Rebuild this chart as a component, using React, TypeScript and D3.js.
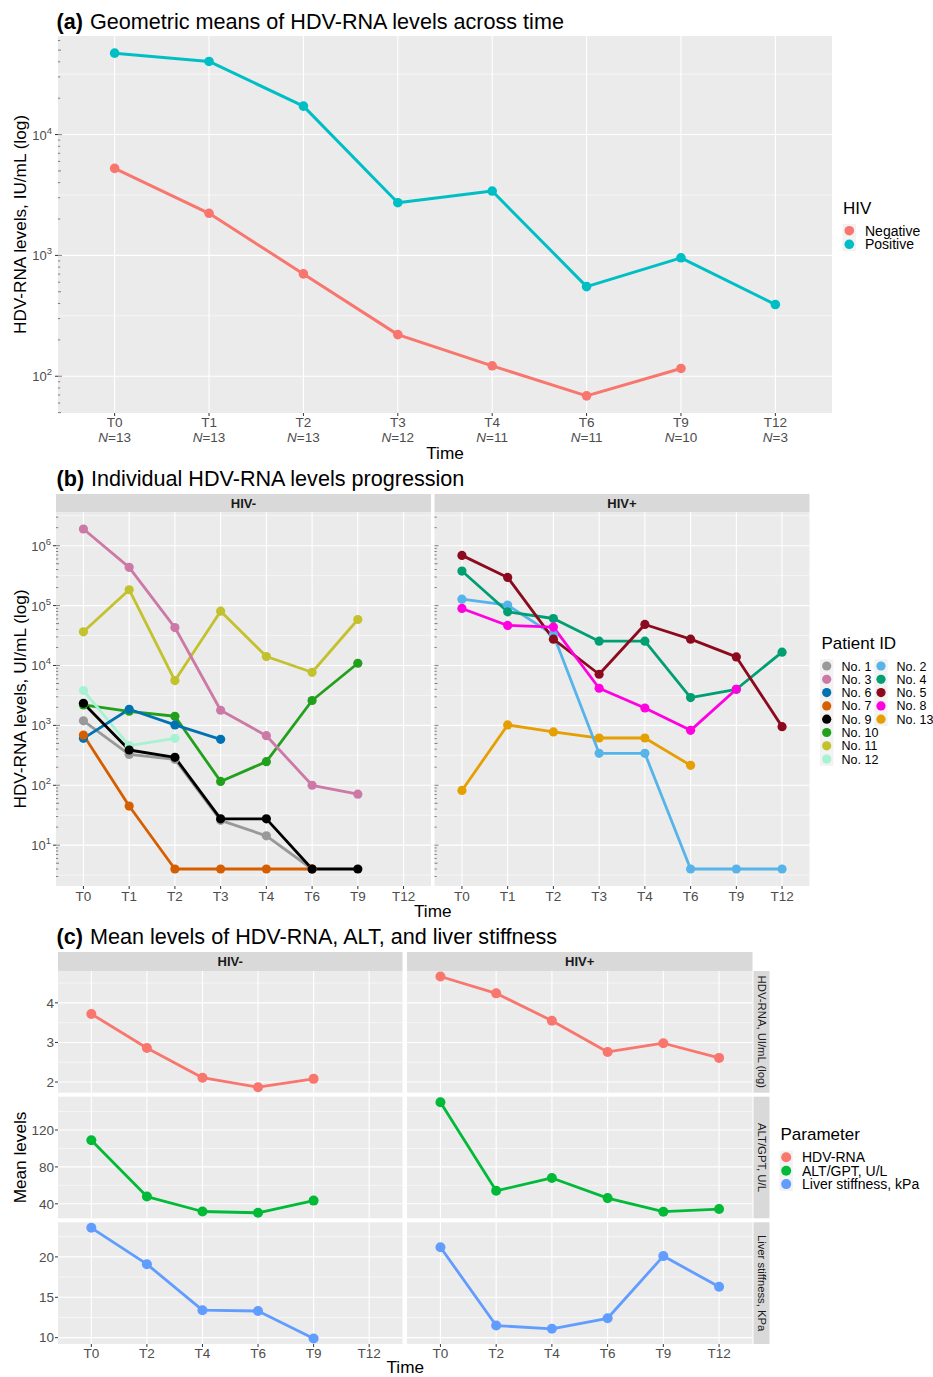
import React from "react";
import * as d3 from "d3";

const FONT = "'Liberation Sans', Arial, Helvetica, sans-serif";
const PANEL_BG = "#EBEBEB";
const STRIP_BG = "#D9D9D9";
const KEY_BG = "#F2F2F2";
const AXIS_TEXT = "#4D4D4D";
const TICK_COLOR = "#333333";

// ---------------- (a) geometric means ----------------
const timesA = ["T0", "T1", "T2", "T3", "T4", "T6", "T9", "T12"];
const sampleSizes = ["13", "13", "13", "12", "11", "11", "10", "3"];
const hivLevels = ["Negative", "Positive"];
const hivColors = ["#F8766D", "#00BFC4"];
const geoMeanNegative: (number | null)[] = [5250, 2230, 703, 221, 122, 68.8, 116, null];
const geoMeanPositive: (number | null)[] = [47200, 40300, 17200, 2730, 3410, 552, 955, 392];

// ---------------- (b) individual patients ----------------
const facetsB = ["HIV-", "HIV+"];
const patientIds = ["No. 1", "No. 2", "No. 3", "No. 4", "No. 5", "No. 6", "No. 7", "No. 8", "No. 9", "No. 10", "No. 11", "No. 12", "No. 13"];
const patientGroups = ["HIV-", "HIV+", "HIV-", "HIV+", "HIV+", "HIV-", "HIV-", "HIV+", "HIV-", "HIV-", "HIV-", "HIV-", "HIV+"];
const patientColors = ["#999999", "#56B4E9", "#CC79A7", "#009E73", "#8B0A1E", "#0072B2", "#D55E00", "#FF00E0", "#000000", "#22A01C", "#C3C12D", "#A5F3D3", "#E69F00"];
const no1: (number | null)[] = [1190, 328, 271, 26, 14.3, 4, null, null];
const no2: (number | null)[] = [128000, 102000, 32500, 341, 341, 4, 4, 4];
const no3: (number | null)[] = [1900000, 435000, 43000, 1790, 673, 100, 71, null];
const no4: (number | null)[] = [377000, 78700, 60900, 25500, 25500, 2910, 4010, 16700];
const no5: (number | null)[] = [689000, 295000, 27500, 7140, 48400, 27500, 13900, 953];
const no6: (number | null)[] = [608, 1860, 1017, 585, null, null, null, null];
const no7: (number | null)[] = [690, 45, 4, 4, 4, 4, null, null];
const no8: (number | null)[] = [89600, 46600, 43700, 4170, 1950, 826, 4010, null];
const no9: (number | null)[] = [2340, 388, 293, 27.5, 27.5, 4, 4, null];
const no10: (number | null)[] = [2190, 1720, 1420, 116, 248, 2600, 10900, null];
const no11: (number | null)[] = [36500, 184000, 5600, 80700, 14100, 7700, 58600, null];
const no12: (number | null)[] = [3810, 458, 608, null, null, null, null, null];
const no13: (number | null)[] = [82, 1017, 776, 615, 615, 215, null, null];
const patientSeries = [no1, no2, no3, no4, no5, no6, no7, no8, no9, no10, no11, no12, no13];
const legendColumnB1 = ["No. 1", "No. 3", "No. 6", "No. 7", "No. 9", "No. 10", "No. 11", "No. 12"];
const legendColumnB2 = ["No. 2", "No. 4", "No. 5", "No. 8", "No. 13"];

// ---------------- (c) mean levels ----------------
const timesC = ["T0", "T2", "T4", "T6", "T9", "T12"];
const facetsC = ["HIV-", "HIV+"];
const parameterLabels = ["HDV-RNA", "ALT/GPT, U/L", "Liver stiffness, kPa"];
const parameterStrips = ["HDV-RNA, UI/mL (log)", "ALT/GPT, U/L", "Liver stiffness, KPa"];
const parameterColors = ["#F8766D", "#00BA38", "#619CFF"];
const hdvMeanNeg: (number | null)[] = [3.72, 2.86, 2.11, 1.87, 2.08, null];
const hdvMeanPos: (number | null)[] = [4.665, 4.24, 3.55, 2.76, 2.98, 2.61];
const altMeanNeg: (number | null)[] = [108.9, 47.9, 31.7, 30.3, 43.5, null];
const altMeanPos: (number | null)[] = [150.1, 54.1, 68.0, 46.2, 31.5, 34.3];
const lsmMeanNeg: (number | null)[] = [23.6, 19.1, 13.4, 13.3, 9.9, null];
const lsmMeanPos: (number | null)[] = [21.2, 11.5, 11.1, 12.4, 20.1, 16.3];
const yTicksC = [[2, 3, 4], [40, 80, 120], [10, 15, 20]];
const yMinorC = [[2.5, 3.5, 4.5], [60, 100, 140], [12.5, 17.5, 22.5]];

// ---------------- helpers ----------------
function expandLog(vals: number[]): [number, number] {
  const lo = Math.log10(d3.min(vals)!);
  const hi = Math.log10(d3.max(vals)!);
  const d = (hi - lo) * 0.05;
  return [Math.pow(10, lo - d), Math.pow(10, hi + d)];
}
function expandLin(vals: number[]): [number, number] {
  const lo = d3.min(vals)!;
  const hi = d3.max(vals)!;
  const d = (hi - lo) * 0.05;
  return [lo - d, hi + d];
}
const clean = (a: (number | null)[]) => a.filter((v) => v != null) as number[];

type Box = { x0: number; x1: number; y0: number; y1: number };

function PanelBg({ box, xs, yMajor, yMinor }: { box: Box; xs: number[]; yMajor: number[]; yMinor: number[]; k: string }) {
  return (
    <g>
      <rect x={box.x0} y={box.y0} width={box.x1 - box.x0} height={box.y1 - box.y0} fill={PANEL_BG} />
      {yMinor.filter((y) => y > box.y0 && y < box.y1).map((y, i) => (
        <line key={"mn" + i} x1={box.x0} x2={box.x1} y1={y} y2={y} stroke="#FFFFFF" strokeWidth={0.55} />
      ))}
      {yMajor.filter((y) => y > box.y0 && y < box.y1).map((y, i) => (
        <line key={"mj" + i} x1={box.x0} x2={box.x1} y1={y} y2={y} stroke="#FFFFFF" strokeWidth={1.1} />
      ))}
      {xs.map((x, i) => (
        <line key={"vx" + i} x1={x} x2={x} y1={box.y0} y2={box.y1} stroke="#FFFFFF" strokeWidth={1.1} />
      ))}
    </g>
  );
}

function LogTicks({ box, y, k }: { box: Box; y: d3.ScaleLogarithmic<number, number>; k: string }) {
  const [lo, hi] = y.domain();
  const out: JSX.Element[] = [];
  for (let e = Math.floor(Math.log10(lo)); e <= Math.ceil(Math.log10(hi)); e++) {
    for (let m = 1; m <= 9; m++) {
      const v = m * Math.pow(10, e);
      if (v < lo || v > hi) continue;
      const len = m === 1 ? 4 : m === 5 ? 3 : 2.2;
      const yy = y(v);
      out.push(<line key={k + e + "_" + m} x1={box.x0} x2={box.x0 + len} y1={yy} y2={yy} stroke="#333" strokeWidth={0.6} />);
    }
  }
  return <g>{out}</g>;
}

function PowLabel({ x, y, exp }: { x: number; y: number; exp: number }) {
  return (
    <text x={x} y={y + 5} textAnchor="end" fontSize={13} fill={AXIS_TEXT} fontFamily={FONT}>
      10<tspan dy={-6} fontSize={9.5}>{exp}</tspan>
    </text>
  );
}

function Title({ x, y, tag, text }: { x: number; y: number; tag: string; text: string }) {
  return (
    <text x={x} y={y} fontSize={21.6} fontFamily={FONT} fill="#000">
      <tspan fontWeight="bold">{tag}</tspan>
      <tspan dx={7}>{text}</tspan>
    </text>
  );
}

export default function App() {
  const W = 933, H = 1377;

  // ---------- (a) ----------
  const boxA: Box = { x0: 58, x1: 832, y0: 36, y1: 413 };
  const xA = d3.scalePoint<string>().domain(timesA).range([boxA.x0, boxA.x1]).padding(0.6);
  const yA = d3.scaleLog().domain(expandLog([...clean(geoMeanNegative), ...clean(geoMeanPositive)])).range([boxA.y1, boxA.y0]);
  const aMajor = [100, 1000, 10000];
  const aMinor = [Math.pow(10, 2.5), Math.pow(10, 3.5), Math.pow(10, 4.5)];
  const seriesA = [geoMeanNegative, geoMeanPositive];
  const lineA = d3
    .line<[string, number | null]>()
    .defined((d) => d[1] != null)
    .x((d) => xA(d[0])!)
    .y((d) => yA(d[1] as number));

  // ---------- (b) ----------
  const boxesB: Box[] = [
    { x0: 56, x1: 431, y0: 512, y1: 886 },
    { x0: 434.5, x1: 809.5, y0: 512, y1: 886 },
  ];
  const stripYB = [494, 512];
  const allB = patientSeries.flatMap((s) => clean(s));
  const yB = d3.scaleLog().domain(expandLog(allB)).range([boxesB[0].y1, boxesB[0].y0]);
  const xBs = boxesB.map((b) => d3.scalePoint<string>().domain(timesA).range([b.x0, b.x1]).padding(0.6));
  const bMajor = [1, 2, 3, 4, 5, 6].map((e) => Math.pow(10, e));
  const bMinor = [0.5, 1.5, 2.5, 3.5, 4.5, 5.5, 6.5].map((e) => Math.pow(10, e));
  const drawOrder = d3.range(patientIds.length).sort((a, b) => d3.ascending(patientIds[a], patientIds[b]));

  // ---------- (c) ----------
  const colsC = [
    { x0: 58, x1: 402.5 },
    { x0: 407, x1: 752.5 },
  ];
  const rowsC = [
    { y0: 971, y1: 1092.7 },
    { y0: 1096.7, y1: 1218.3 },
    { y0: 1222.3, y1: 1344 },
  ];
  const stripYC = [952, 971];
  const seriesC = [
    [hdvMeanNeg, hdvMeanPos],
    [altMeanNeg, altMeanPos],
    [lsmMeanNeg, lsmMeanPos],
  ];
  const xCs = colsC.map((c) => d3.scalePoint<string>().domain(timesC).range([c.x0, c.x1]).padding(0.6));
  const yCs = rowsC.map((r, i) =>
    d3.scaleLinear().domain(expandLin([...clean(seriesC[i][0]), ...clean(seriesC[i][1])])).range([r.y1, r.y0])
  );

  const els: JSX.Element[] = [];

  // ===== Panel (a) =====
  els.push(<Title key="ta" x={56.5} y={28.5} tag="(a)" text="Geometric means of HDV-RNA levels across time" />);
  els.push(
    <PanelBg key="pa" k="pa" box={boxA} xs={timesA.map((t) => xA(t)!)} yMajor={aMajor.map((v) => yA(v))} yMinor={aMinor.map((v) => yA(v))} />
  );
  seriesA.forEach((s, si) => {
    els.push(
      <path key={"la" + si} d={lineA(timesA.map((t, i) => [t, s[i]]) as [string, number | null][]) || ""} fill="none" stroke={hivColors[si]} strokeWidth={3} strokeLinejoin="round" />
    );
  });
  seriesA.forEach((s, si) => {
    timesA.forEach((t, i) => {
      if (s[i] == null) return;
      els.push(<circle key={"pa" + si + "_" + i} cx={xA(t)} cy={yA(s[i] as number)} r={4.8} fill={hivColors[si]} />);
    });
  });
  els.push(<LogTicks key="lta" k="lta" box={boxA} y={yA} />);
  aMajor.forEach((v, i) => {
    const yy = yA(v);
    els.push(<line key={"ata" + i} x1={boxA.x0 - 3} x2={boxA.x0} y1={yy} y2={yy} stroke={TICK_COLOR} strokeWidth={1} />);
    els.push(<PowLabel key={"apl" + i} x={52} y={yy} exp={Math.round(Math.log10(v))} />);
  });
  timesA.forEach((t, i) => {
    const xx = xA(t)!;
    els.push(<line key={"axt" + i} x1={xx} x2={xx} y1={boxA.y1} y2={boxA.y1 + 3} stroke={TICK_COLOR} strokeWidth={1} />);
    els.push(
      <text key={"axl" + i} x={xx} y={427} textAnchor="middle" fontSize={13.5} fill={AXIS_TEXT} fontFamily={FONT}>
        {t}
      </text>
    );
    els.push(
      <text key={"axn" + i} x={xx} y={442} textAnchor="middle" fontSize={13.5} fill={AXIS_TEXT} fontFamily={FONT}>
        <tspan fontStyle="italic">N</tspan>={sampleSizes[i]}
      </text>
    );
  });
  els.push(
    <text key="axta" x={(boxA.x0 + boxA.x1) / 2} y={459} textAnchor="middle" fontSize={17.2} fontFamily={FONT}>
      Time
    </text>
  );
  els.push(
    <text key="ayta" transform={`translate(26,${(boxA.y0 + boxA.y1) / 2}) rotate(-90)`} textAnchor="middle" fontSize={17.2} fontFamily={FONT}>
      HDV-RNA levels, IU/mL (log)
    </text>
  );
  // legend a
  els.push(
    <text key="lga" x={843} y={213.5} fontSize={17} fontFamily={FONT}>
      HIV
    </text>
  );
  hivLevels.forEach((lv, i) => {
    const cy = 230.7 + i * 13.6;
    els.push(<rect key={"lgak" + i} x={842.5} y={cy - 6.8} width={13.6} height={13.6} fill={KEY_BG} />);
    els.push(<circle key={"lgac" + i} cx={849.3} cy={cy} r={4.8} fill={hivColors[i]} />);
    els.push(
      <text key={"lgat" + i} x={865} y={cy + 5} fontSize={14} fontFamily={FONT}>
        {lv}
      </text>
    );
  });

  // ===== Panel (b) =====
  els.push(<Title key="tb" x={56.5} y={486} tag="(b)" text="Individual HDV-RNA levels progression" />);
  boxesB.forEach((b, fi) => {
    const xs = xBs[fi];
    els.push(
      <rect key={"sb" + fi} x={b.x0} y={stripYB[0]} width={b.x1 - b.x0} height={stripYB[1] - stripYB[0]} fill={STRIP_BG} />
    );
    els.push(
      <text key={"sbt" + fi} x={(b.x0 + b.x1) / 2} y={(stripYB[0] + stripYB[1]) / 2 + 4.6} textAnchor="middle" fontSize={13} fontWeight="bold" fill="#1A1A1A" fontFamily={FONT}>
        {facetsB[fi]}
      </text>
    );
    els.push(
      <PanelBg key={"pb" + fi} k={"pb" + fi} box={b} xs={timesA.map((t) => xs(t)!)} yMajor={bMajor.map((v) => yB(v))} yMinor={bMinor.map((v) => yB(v))} />
    );
  });
  const linesB: JSX.Element[] = [];
  const pointsB: JSX.Element[] = [];
  drawOrder.forEach((pi) => {
    const fi = facetsB.indexOf(patientGroups[pi]);
    const xs = xBs[fi];
    const s = patientSeries[pi];
    const ln = d3
      .line<[string, number | null]>()
      .defined((d) => d[1] != null)
      .x((d) => xs(d[0])!)
      .y((d) => yB(d[1] as number));
    linesB.push(
      <path key={"lb" + pi} d={ln(timesA.map((t, i) => [t, s[i]]) as [string, number | null][]) || ""} fill="none" stroke={patientColors[pi]} strokeWidth={2.8} strokeLinejoin="round" />
    );
    timesA.forEach((t, i) => {
      if (s[i] == null) return;
      pointsB.push(<circle key={"pb" + pi + "_" + i} cx={xs(t)} cy={yB(s[i] as number)} r={4.6} fill={patientColors[pi]} />);
    });
  });
  els.push(<g key="linesB">{linesB}</g>);
  els.push(<g key="pointsB">{pointsB}</g>);
  boxesB.forEach((b, fi) => {
    els.push(<LogTicks key={"ltb" + fi} k={"ltb" + fi} box={b} y={yB} />);
    timesA.forEach((t, i) => {
      const xx = xBs[fi](t)!;
      els.push(<line key={"bxt" + fi + i} x1={xx} x2={xx} y1={b.y1} y2={b.y1 + 3} stroke={TICK_COLOR} strokeWidth={1} />);
      els.push(
        <text key={"bxl" + fi + i} x={xx} y={900.5} textAnchor="middle" fontSize={13.5} fill={AXIS_TEXT} fontFamily={FONT}>
          {t}
        </text>
      );
    });
  });
  bMajor.forEach((v, i) => {
    const yy = yB(v);
    els.push(<line key={"bta" + i} x1={boxesB[0].x0 - 3} x2={boxesB[0].x0} y1={yy} y2={yy} stroke={TICK_COLOR} strokeWidth={1} />);
    els.push(<PowLabel key={"bpl" + i} x={51} y={yy} exp={Math.round(Math.log10(v))} />);
  });
  els.push(
    <text key="bxta" x={(boxesB[0].x0 + boxesB[1].x1) / 2} y={917} textAnchor="middle" fontSize={17.2} fontFamily={FONT}>
      Time
    </text>
  );
  els.push(
    <text key="byta" transform={`translate(26,${(boxesB[0].y0 + boxesB[0].y1) / 2}) rotate(-90)`} textAnchor="middle" fontSize={17.2} fontFamily={FONT}>
      HDV-RNA levels, UI/mL (log)
    </text>
  );
  // legend b
  els.push(
    <text key="lgb" x={821.5} y={648.5} fontSize={17} fontFamily={FONT}>
      Patient ID
    </text>
  );
  [legendColumnB1, legendColumnB2].forEach((col, ci) => {
    const kx = ci === 0 ? 826.7 : 881;
    const tx = ci === 0 ? 841.5 : 896.5;
    col.forEach((id, ri) => {
      const cy = 666 + ri * 13.3;
      const pi = patientIds.indexOf(id);
      els.push(<rect key={"lgbk" + ci + ri} x={kx - 6.7} y={cy - 6.65} width={13.4} height={13.3} fill={KEY_BG} />);
      els.push(<circle key={"lgbc" + ci + ri} cx={kx} cy={cy} r={4.6} fill={patientColors[pi]} />);
      els.push(
        <text key={"lgbt" + ci + ri} x={tx} y={cy + 4.5} fontSize={12.5} fontFamily={FONT}>
          {id}
        </text>
      );
    });
  });

  // ===== Panel (c) =====
  els.push(<Title key="tc" x={56.5} y={944} tag="(c)" text="Mean levels of HDV-RNA, ALT, and liver stiffness" />);
  colsC.forEach((c, ci) => {
    els.push(<rect key={"sc" + ci} x={c.x0} y={stripYC[0]} width={c.x1 - c.x0} height={stripYC[1] - stripYC[0]} fill={STRIP_BG} />);
    els.push(
      <text key={"sct" + ci} x={(c.x0 + c.x1) / 2} y={(stripYC[0] + stripYC[1]) / 2 + 4.6} textAnchor="middle" fontSize={13} fontWeight="bold" fill="#1A1A1A" fontFamily={FONT}>
        {facetsC[ci]}
      </text>
    );
  });
  rowsC.forEach((r, ri) => {
    const y = yCs[ri];
    els.push(<rect key={"rsc" + ri} x={753.5} y={r.y0} width={16} height={r.y1 - r.y0} fill={STRIP_BG} />);
    els.push(
      <text key={"rsct" + ri} transform={`translate(761.5,${(r.y0 + r.y1) / 2}) rotate(90)`} y={4} textAnchor="middle" fontSize={11.3} fill="#1A1A1A" fontFamily={FONT}>
        {parameterStrips[ri]}
      </text>
    );
    colsC.forEach((c, ci) => {
      const box: Box = { x0: c.x0, x1: c.x1, y0: r.y0, y1: r.y1 };
      els.push(
        <PanelBg key={"pc" + ri + ci} k={"pc" + ri + ci} box={box} xs={timesC.map((t) => xCs[ci](t)!)} yMajor={yTicksC[ri].map((v) => y(v))} yMinor={yMinorC[ri].map((v) => y(v))} />
      );
    });
    colsC.forEach((c, ci) => {
      const s = seriesC[ri][ci];
      const xs = xCs[ci];
      const ln = d3
        .line<[string, number | null]>()
        .defined((d) => d[1] != null)
        .x((d) => xs(d[0])!)
        .y((d) => y(d[1] as number));
      els.push(
        <path key={"lc" + ri + ci} d={ln(timesC.map((t, i) => [t, s[i]]) as [string, number | null][]) || ""} fill="none" stroke={parameterColors[ri]} strokeWidth={2.8} strokeLinejoin="round" />
      );
      timesC.forEach((t, i) => {
        if (s[i] == null) return;
        els.push(<circle key={"pcc" + ri + ci + i} cx={xs(t)} cy={y(s[i] as number)} r={5} fill={parameterColors[ri]} />);
      });
    });
    yTicksC[ri].forEach((v, i) => {
      const yy = y(v);
      els.push(<line key={"cyt" + ri + i} x1={colsC[0].x0 - 3} x2={colsC[0].x0} y1={yy} y2={yy} stroke={TICK_COLOR} strokeWidth={1} />);
      els.push(
        <text key={"cyl" + ri + i} x={54} y={yy + 4.8} textAnchor="end" fontSize={13.5} fill={AXIS_TEXT} fontFamily={FONT}>
          {v}
        </text>
      );
    });
  });
  colsC.forEach((c, ci) => {
    timesC.forEach((t, i) => {
      const xx = xCs[ci](t)!;
      els.push(<line key={"cxt" + ci + i} x1={xx} x2={xx} y1={rowsC[2].y1} y2={rowsC[2].y1 + 3} stroke={TICK_COLOR} strokeWidth={1} />);
      els.push(
        <text key={"cxl" + ci + i} x={xx} y={1357.5} textAnchor="middle" fontSize={13.5} fill={AXIS_TEXT} fontFamily={FONT}>
          {t}
        </text>
      );
    });
  });
  els.push(
    <text key="cxta" x={(colsC[0].x0 + colsC[1].x1) / 2} y={1373} textAnchor="middle" fontSize={17.2} fontFamily={FONT}>
      Time
    </text>
  );
  els.push(
    <text key="cyta" transform={`translate(26,${(rowsC[0].y0 + rowsC[2].y1) / 2}) rotate(-90)`} textAnchor="middle" fontSize={17.2} fontFamily={FONT}>
      Mean levels
    </text>
  );
  // legend c
  els.push(
    <text key="lgc" x={780.5} y={1140} fontSize={17} fontFamily={FONT}>
      Parameter
    </text>
  );
  parameterLabels.forEach((lb, i) => {
    const cy = 1157.3 + i * 13.4;
    els.push(<rect key={"lgck" + i} x={779.5} y={cy - 6.7} width={13.4} height={13.4} fill={KEY_BG} />);
    els.push(<circle key={"lgcc" + i} cx={786.2} cy={cy} r={5} fill={parameterColors[i]} />);
    els.push(
      <text key={"lgct" + i} x={802} y={cy + 5} fontSize={14} fontFamily={FONT}>
        {lb}
      </text>
    );
  });

  return (
    <div style={{ position: "absolute", left: 0, top: 0 }}>
      <svg width={W} height={H} viewBox={`0 0 ${W} ${H}`} style={{ display: "block", background: "#fff" }}>
        {els}
      </svg>
    </div>
  );
}
